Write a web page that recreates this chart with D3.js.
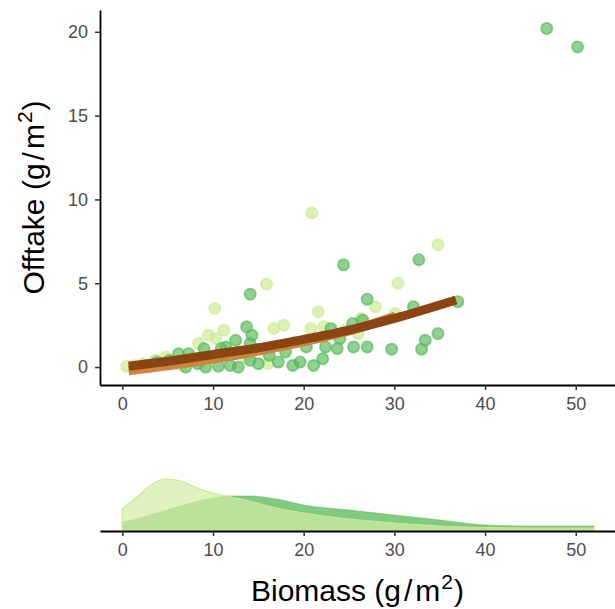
<!DOCTYPE html>
<html>
<head>
<meta charset="utf-8">
<script src="https://cdnjs.cloudflare.com/ajax/libs/d3/7.8.5/d3.min.js"></script>
<style>
body { margin: 0; background: #fff; }
svg { display: block; font-family: "Liberation Sans", Arial, sans-serif; }
.axis text { font-size: 18px; fill: #4d4d4d; }
.axis .tick line { stroke: #333; stroke-width: 1.5; }
.axis .domain { stroke: #000; stroke-width: 1.8; }
</style>
</head>
<body>
<div id="chart"></div>
<script>
// scatter values (biomass, offtake)
var darkX = [46.8, 50.2, 24.4, 32.7, 14.1, 27.0, 32.1, 37.0, 25.4, 26.5, 23.0, 25.5, 27.0, 23.7, 29.7, 33.0, 33.4, 34.8,
             22.4, 21.1, 22.1, 17.2, 18.8, 19.6, 13.7, 14.3, 12.5, 9.0, 10.9, 14.1, 11.4, 6.2, 7.3, 14.1, 15.0, 12.8,
             11.9, 7.0, 9.2, 10.6, 5.2, 3.8, 8.3, 16.2, 18.0, 20.3, 24.0, 2.6];
var darkY = [20.2, 19.1, 6.1, 6.4, 4.35, 4.05, 3.6, 3.9, 2.6, 2.8, 2.3, 1.2, 1.2, 1.1, 1.07, 1.07, 1.6, 2.0,
             1.2, 0.1, 0.5, 0.3, 0.1, 0.3, 2.4, 1.9, 1.6, 1.1, 1.1, 1.4, 1.2, 0.8, 0.8, 0.4, 0.2, 0.0,
             0.1, 0.0, 0.0, 0.05, 0.4, 0.3, 0.2, 0.7, 0.9, 1.2, 1.7, 0.1];

var lightX = [20.9, 34.8, 15.9, 30.4, 27.9, 30.1, 26.3, 10.2, 11.2, 9.5, 10.3, 8.4, 16.7, 17.8, 21.6, 20.8, 22.2,
              24.6, 0.5, 3.6, 16.1, 1.4, 2.3, 3.0, 4.4, 5.6, 6.5, 7.6, 8.6, 12.4, 13.6, 19.0, 26.0, 4.8];
var lightY = [9.2, 7.3, 4.95, 5.0, 3.6, 3.2, 2.9, 3.5, 2.2, 1.9, 1.7, 1.4, 2.3, 2.5, 3.3, 2.3, 2.4,
              2.2, 0.05, 0.4, 0.2, 0.1, 0.2, 0.0, 0.2, 0.3, 0.1, 0.5, 0.3, 0.8, 0.6, 1.5, 2.0, 0.6];

// fitted curves
var fitDarkX = [0.7, 5, 10, 15, 20, 25, 30, 36.8];
var fitDarkY = [0.05, 0.35, 0.75, 1.15, 1.65, 2.2, 2.9, 4.0];
var fitLightX = [0.7, 5, 10, 15, 20, 25, 30.1];
var fitLightY = [-0.22, 0.08, 0.48, 0.95, 1.5, 2.15, 3.05];

// marginal densities of biomass
var densX     = [0, 2, 3, 4.7, 6, 8, 10, 12, 14, 17, 20, 25, 30, 35, 40, 45, 52];
var densDark  = [0.008, 0.012, 0.015, 0.019, 0.023, 0.028, 0.032, 0.034, 0.034, 0.031, 0.025, 0.02, 0.015, 0.01, 0.005, 0.004, 0.004];
var densLight = [0.021, 0.036, 0.044, 0.051, 0.05, 0.043, 0.037, 0.033, 0.029, 0.022, 0.017, 0.011, 0.007, 0.004, 0.0025, 0.002, 0.002];

var xTicks = [0, 10, 20, 30, 40, 50];
var yTicks = [0, 5, 10, 15, 20];

var darkCol = "#55b857", lightCol = "#cbe991";

var margin = {top: 10, right: 0, left: 100},
    width = 615 - margin.left - margin.right,
    height = 375;

var x = d3.scaleLinear().domain([-2.46, 54.33]).range([0, width]);
var y = d3.scaleLinear().domain([-1.07, 21.3]).range([height, 0]);
var yd = d3.scaleLinear().domain([0, 0.06]).range([520, 460]);

var svg = d3.select("#chart").append("svg")
    .attr("width", 615)
    .attr("height", 609);

var main = svg.append("g")
    .attr("transform", "translate(" + margin.left + "," + margin.top + ")");

// points
function drawPoints(xs, ys, col) {
  main.append("g").selectAll("circle")
      .data(xs.map(function(d, i) { return [d, ys[i]]; }))
    .enter().append("circle")
      .attr("cx", function(d) { return x(d[0]); })
      .attr("cy", function(d) { return y(d[1]); })
      .attr("r", 5.6)
      .style("fill", col)
      .style("fill-opacity", 0.65)
      .style("stroke", col)
      .style("stroke-opacity", 0.65)
      .style("stroke-width", 1.8);
}
drawPoints(lightX, lightY, lightCol);
drawPoints(darkX, darkY, darkCol);

// fitted lines
var line = d3.line()
    .x(function(d) { return x(d[0]); })
    .y(function(d) { return y(d[1]); })
    .curve(d3.curveMonotoneX);

main.append("path")
    .datum(fitLightX.map(function(d, i) { return [d, fitLightY[i]]; }))
    .attr("d", line)
    .style("fill", "none")
    .style("stroke", "#cd853f")
    .style("stroke-width", 9);

main.append("path")
    .datum(fitDarkX.map(function(d, i) { return [d, fitDarkY[i]]; }))
    .attr("d", line)
    .style("fill", "none")
    .style("stroke", "#8b4513")
    .style("stroke-width", 9);

main.append("g")
    .attr("class", "axis")
    .attr("transform", "translate(0," + height + ")")
    .call(d3.axisBottom(x).tickValues(xTicks).tickSize(5).tickSizeOuter(0).tickPadding(7));

main.append("g")
    .attr("class", "axis")
    .call(d3.axisLeft(y).tickValues(yTicks).tickSize(5).tickSizeOuter(0).tickPadding(7));

// density panel
var area = function(vals) {
  return d3.area()
    .x(function(d, i) { return x(densX[i]); })
    .y0(yd(0))
    .y1(function(d) { return yd(d); })
    .curve(d3.curveMonotoneX)(vals);
};

main.append("path")
    .attr("d", area(densDark))
    .style("fill", darkCol)
    .style("fill-opacity", 0.75)
    .style("stroke", darkCol)
    .style("stroke-opacity", 0.5);

main.append("path")
    .attr("d", area(densLight))
    .style("fill", "#d4eca5")
    .style("fill-opacity", 0.7)
    .style("stroke", lightCol)
    .style("stroke-width", 1.2);

main.append("g")
    .attr("class", "axis")
    .attr("transform", "translate(0," + 521 + ")")
    .call(d3.axisBottom(x).tickValues(xTicks).tickSize(5).tickSizeOuter(0).tickPadding(7));

// titles
function title(sel, main) {
  sel.append("tspan").text(main + " (g");
  sel.append("tspan").attr("dx", 3).text("/");
  sel.append("tspan").attr("dx", 3).text("m");
  sel.append("tspan").attr("dy", -12).attr("dx", 1).style("font-size", "21px").text("2");
  sel.append("tspan").attr("dy", 12).attr("dx", 1).text(")");
}

svg.append("text")
    .attr("x", margin.left + width / 2)
    .attr("y", 601)
    .style("text-anchor", "middle")
    .style("font-size", "30px")
    .style("fill", "#000")
    .call(title, "Biomass");

svg.append("text")
    .attr("transform", "translate(44," + (margin.top + height / 2) + ") rotate(-90)")
    .style("text-anchor", "middle")
    .style("font-size", "30px")
    .style("fill", "#000")
    .call(title, "Offtake");
</script>
</body>
</html>
